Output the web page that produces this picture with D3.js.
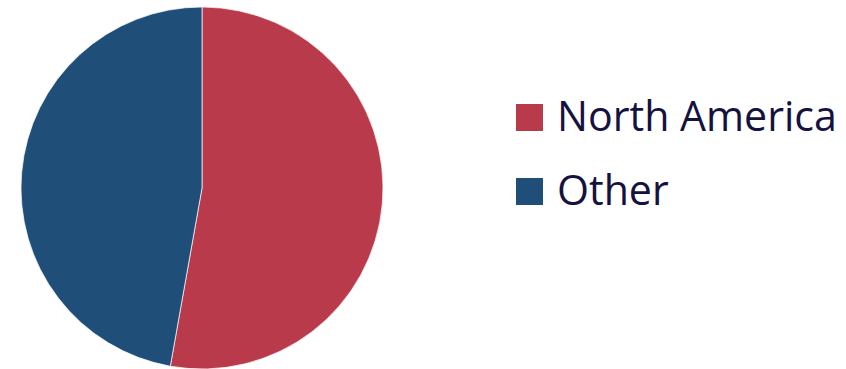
<!DOCTYPE html>
<html><head><meta charset="utf-8">
<script src="https://cdn.jsdelivr.net/npm/d3@7"></script>
<style>body{margin:0;background:#fff}</style>
</head><body>
<svg id="c" width="846" height="369"></svg>
<script>
const categories = ["North America", "Other"];
const values = [52.8, 47.2];
const colors = ["#B83A4B", "#1F4E79"];

const svg = d3.select("#c");
const cx = 202, cy = 188, r = 181;
const pie = d3.pie().sort(null).value(d => d.v);
const arc = d3.arc().innerRadius(0).outerRadius(r);
const data = categories.map((c, i) => ({c, v: values[i], col: colors[i]}));
svg.append("g").attr("transform", `translate(${cx},${cy})`)
  .selectAll("path").data(pie(data)).join("path")
  .attr("d", arc).attr("fill", d => d.data.col)
  .attr("stroke", "#fff").attr("stroke-width", 0.7);

const leg = svg.append("g");
const rows = [131, 205];
data.forEach((d, i) => {
  leg.append("rect").attr("x", 516).attr("y", rows[i] - 27).attr("width", 27).attr("height", 27).attr("fill", d.col);
  leg.append("text").attr("x", 557).attr("y", rows[i])
    .attr("font-family", "Open Sans, sans-serif").attr("font-size", 40)
    .attr("fill", "#15123F").text(d.c);
});
// fit font size so "North America" spans ~280px
const t0 = leg.select("text").node();
const w = t0.getComputedTextLength();
const fs = 40 * 280 / w;
leg.selectAll("text").attr("font-size", fs);
</script>
</body></html>
